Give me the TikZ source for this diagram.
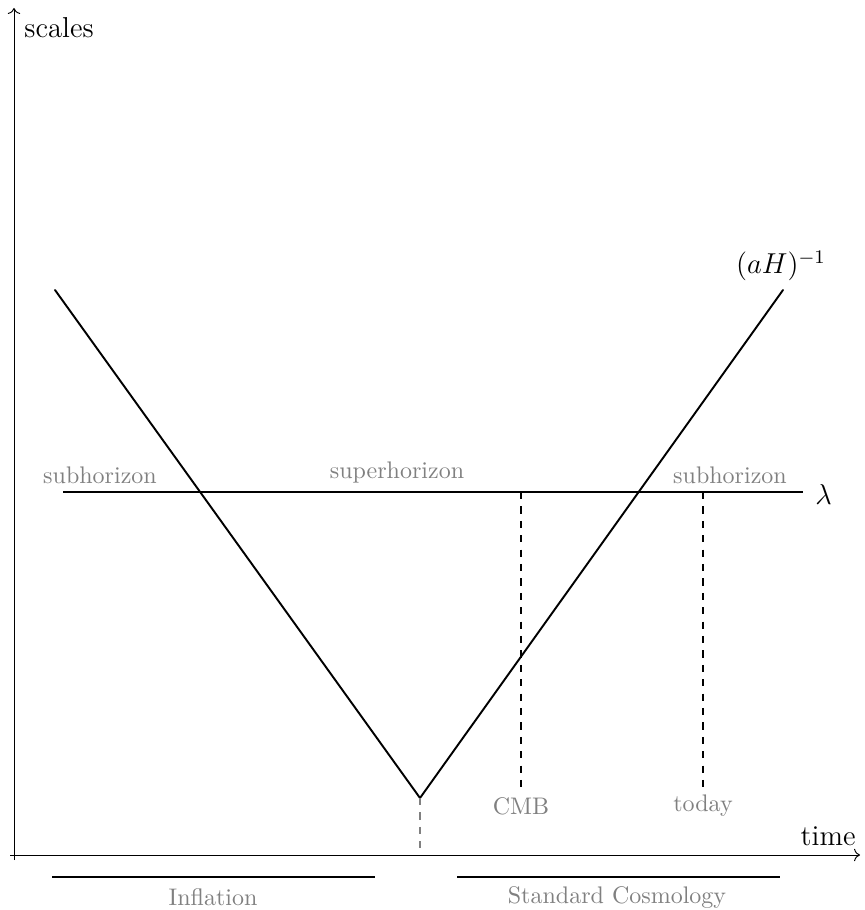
\documentclass[tikz,border=0pt]{standalone}
\usetikzlibrary{arrows.meta}
\begin{document}
\begin{tikzpicture}[x=0.4167pt,y=-0.4167pt,
  axis/.style={->,thin},
  curve/.style={thick,line cap=round},
  dash line/.style={thick,dashed},
  bar/.style={very thick},
  graylabel/.style={text=gray,inner sep=0pt},
  biglabel/.style={font=\large,inner sep=0pt}]
\useasboundingbox (0,0) rectangle (864,910);
% axes
\coordinate (ybot) at (14,860);
\coordinate (ytop) at (14,8);
\coordinate (xleft) at (10,855);
\coordinate (xright) at (860,855);
\draw[axis] (ybot) -- (ytop);
\draw[axis] (xleft) -- (xright);
\node[biglabel,anchor=west] (scales) at (24,28) {scales};
\node[biglabel,anchor=east] (time) at (856,836) {time};
% V shape
\coordinate (vl) at (55,290);
\coordinate (vb) at (420,798);
\coordinate (vr) at (783,290);
\draw[curve] (vl) -- (vb) -- (vr);
\node[biglabel] (aH) at (781,266) {$(aH)^{-1}$};
% lambda line
\coordinate (ll) at (63,492);
\coordinate (lr) at (803,492);
\draw[thick] (ll) -- (lr);
\node[biglabel,anchor=west] (lam) at (815,494) {$\lambda$};
\node[graylabel] (sub1) at (100,475) {subhorizon};
\node[graylabel] (sup) at (397,472) {superhorizon};
\node[graylabel] (sub2) at (730,475) {subhorizon};
% CMB and today
\coordinate (cmbt) at (521,492);
\coordinate (cmbb) at (521,788);
\draw[dash line] (cmbt) -- (cmbb);
\node[graylabel] (cmb) at (521,806) {CMB};
\coordinate (todt) at (703,492);
\coordinate (todb) at (703,788);
\draw[dash line] (todt) -- (todb);
\node[graylabel] (today) at (703,806) {today};
% transition
\coordinate (tr) at (420,855);
\draw[dash line,gray] (vb) -- (tr);
% bars
\coordinate (b1l) at (52,877);
\coordinate (b1r) at (375,877);
\draw[bar] (b1l) -- (b1r);
\node[graylabel] (infl) at (213,897) {Inflation};
\coordinate (b2l) at (457,877);
\coordinate (b2r) at (780,877);
\draw[bar] (b2l) -- (b2r);
\node[graylabel] (sc) at (617,897) {Standard Cosmology};
\end{tikzpicture}
\end{document}
